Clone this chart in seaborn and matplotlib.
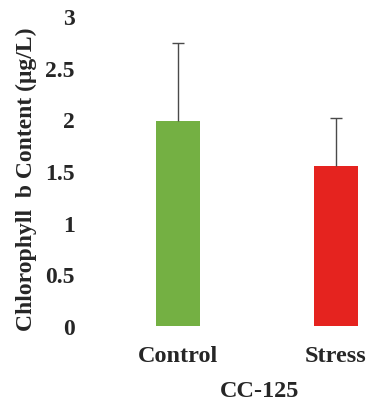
import matplotlib
matplotlib.use("Agg")
import matplotlib.pyplot as plt
import seaborn as sns
import numpy as np

categories = ["Control", "Stress"]
values = [1.98, 1.55]
errors = [0.76, 0.46]
bar_colors = ["#74b043", "#e5231f"]
yticks = [0, 0.5, 1, 1.5, 2, 2.5, 3]
ytick_labels = ["0", "0.5", "1", "1.5", "2", "2.5", "3"]
xlabel = "CC-125"
ylabel = "Chlorophyll  b Content (\u03bcg/L)"

sns.set_style("white")
plt.rcParams["font.family"] = ["Liberation Serif", "DejaVu Serif"]
plt.rcParams["font.weight"] = "bold"

fig = plt.figure(figsize=(3.72, 4.10), dpi=100)
W, H = 372, 410
left_px, right_px, bottom_px, top_px = 80, 372, 327, 17
ax = fig.add_axes([left_px / W, (H - bottom_px) / H,
                   (right_px - left_px) / W, (bottom_px - top_px) / H])

sns.barplot(x=categories, y=values, hue=categories, palette=bar_colors,
            width=0.28, legend=False, ax=ax, errorbar=None, saturation=1,
            linewidth=0)
xs = np.arange(len(categories))
eb = ax.errorbar(xs, values, yerr=[np.zeros(len(values)), errors], fmt="none",
                 ecolor="#4a4a4a", elinewidth=1.0, capsize=4.5, capthick=1.0)
caps = eb[1]
if len(caps) == 2:
    caps[0].set_visible(False)

ax.set_xlim(-0.62, 1.228)
ax.set_ylim(0, 3)
ax.set_yticks(yticks)
ax.set_yticklabels(ytick_labels)
for s in ax.spines.values():
    s.set_visible(False)
ax.tick_params(axis="y", length=0, pad=3.6, labelsize=17)
ax.tick_params(axis="x", length=0, pad=14, labelsize=17.5)
for t in ax.get_xticklabels() + ax.get_yticklabels():
    t.set_fontweight("bold")

ax.set_xlabel(xlabel, fontsize=17.5, fontweight="bold", va="center")
ax.xaxis.set_label_coords((260 - left_px) / (right_px - left_px),
                          (bottom_px - 392) / (bottom_px - top_px))
ax.set_ylabel(ylabel, fontsize=17, fontweight="bold", va="center")
ax.yaxis.set_label_coords((26 - left_px) / (right_px - left_px),
                          (bottom_px - 179) / (bottom_px - top_px))

fig.savefig("out.png", dpi=100)
